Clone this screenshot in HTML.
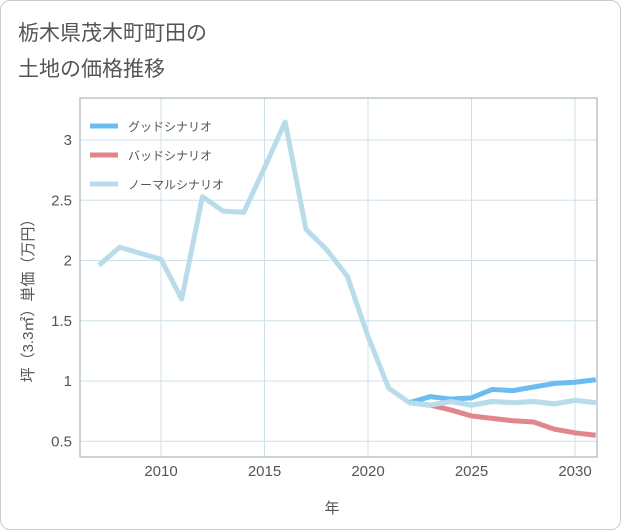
<!DOCTYPE html>
<html><head><meta charset="utf-8"><style>
body{margin:0;background:#fff;font-family:"Liberation Sans","Noto Sans CJK JP",sans-serif}
#card{position:absolute;left:0;top:0;width:619px;height:528px;border:1px solid #ccc;border-radius:10px;background:#fff}
</style></head><body>
<div id="card">
<svg id="chart" width="621" height="530" style="position:absolute;left:-1px;top:-1px">
<text x="18" y="40" font-size="21" fill="#555">栃木県茂木町町田の</text>
<text x="18" y="76" font-size="21" fill="#555">土地の価格推移</text>
<g id="grid"></g><g id="lines"></g><g id="axes"></g>
<text x="332" y="513" font-size="15" fill="#555" text-anchor="middle">年</text>
<text transform="translate(33,297) rotate(-90)" font-size="15" fill="#555" text-anchor="middle">坪（3.3㎡）単価（万円）</text>
<g>
<line x1="90" y1="126" x2="118" y2="126" stroke="#6bbcf0" stroke-width="5"/>
<text x="128" y="131" font-size="12" fill="#555">グッドシナリオ</text>
<line x1="90" y1="155" x2="118" y2="155" stroke="#e0868c" stroke-width="5"/>
<text x="128" y="160" font-size="12" fill="#555">バッドシナリオ</text>
<line x1="90" y1="184" x2="118" y2="184" stroke="#b9dcea" stroke-width="5"/>
<text x="128" y="189" font-size="12" fill="#555">ノーマルシナリオ</text>
</g>
</svg></div>
<script>
const normalYears=[2007,2008,2009,2010,2011,2012,2013,2014,2015,2016,2017,2018,2019,2020,2021,2022,2023,2024,2025,2026,2027,2028,2029,2030,2031];
const normalVals=[1.96,2.11,2.06,2.01,1.68,2.53,2.41,2.40,2.77,3.15,2.26,2.09,1.87,1.37,0.94,0.82,0.80,0.83,0.80,0.83,0.82,0.83,0.81,0.84,0.82];
const scenYears=[2022,2023,2024,2025,2026,2027,2028,2029,2030,2031];
const goodVals=[0.82,0.87,0.85,0.86,0.93,0.92,0.95,0.98,0.99,1.01];
const badVals=[0.82,0.80,0.76,0.71,0.69,0.67,0.66,0.60,0.57,0.55];
const xTicks=[2010,2015,2020,2025,2030];
const yTicks=[0.5,1,1.5,2,2.5,3];
const L=80,R=597,T=98,B=457;
const x=y=>161+(y-2010)*20.7;
const yy=v=>381-(v-1)*120.5;
const NS="http://www.w3.org/2000/svg";
function mk(tag,attrs,parent){const e=document.createElementNS(NS,tag);for(const k in attrs)e.setAttribute(k,attrs[k]);document.getElementById(parent).appendChild(e);return e;}
for(const t of xTicks){const g=mk('line',{x1:x(t),x2:x(t),y1:T,y2:B,stroke:'#cfe0ea'},'grid');


const tx=mk('text',{x:x(t),y:476,'font-size':15,fill:'#555','text-anchor':'middle'},'axes');tx.textContent=t;

}
for(const t of yTicks){const g=mk('line',{x1:L,x2:R,y1:yy(t),y2:yy(t),stroke:'#cfe0ea'},'grid');


const tx=mk('text',{x:72,y:yy(t)+5,'font-size':15,fill:'#555','text-anchor':'end'},'axes');tx.textContent=t;

}
const fr=mk('rect',{x:L,y:T,width:R-L,height:B-T,fill:'none',stroke:'#9aa'},'axes');


function line(ys,vs,color,name){const p=mk('polyline',{points:ys.map((y,i)=>x(y)+','+yy(vs[i])).join(' '),fill:'none',stroke:color,'stroke-width':5,'stroke-linejoin':'round'},'lines');

}
line(normalYears,normalVals,'#b9dcea','normal-scenario-line');
line(scenYears,badVals,'#e0868c','bad-scenario-line');
line(scenYears,goodVals,'#6bbcf0','good-scenario-line');
line(normalYears.slice(15),normalVals.slice(15),'#b9dcea','normal-scenario-line-front');
</script>
</body></html>
